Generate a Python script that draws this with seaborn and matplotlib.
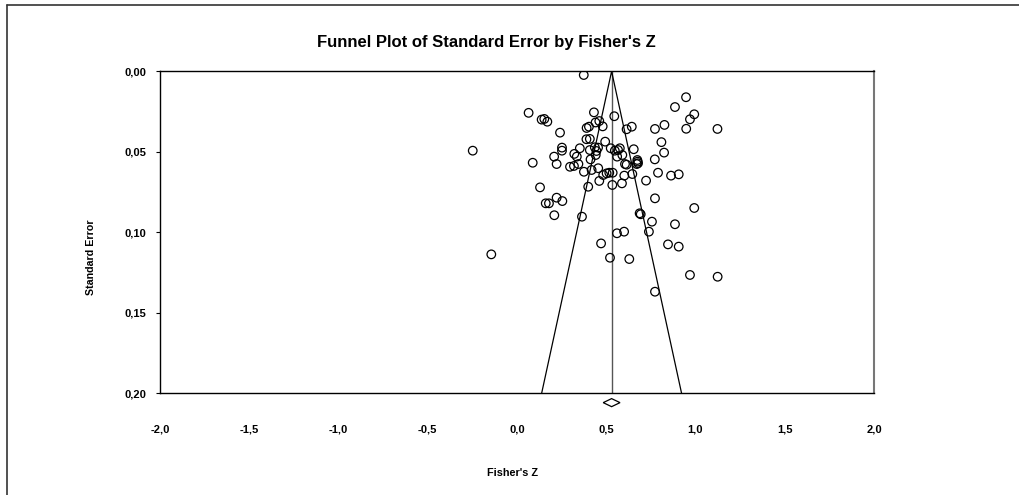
import matplotlib
matplotlib.use("Agg")
import matplotlib.pyplot as plt
import seaborn as sns
import numpy as np
import pandas as pd
from matplotlib.ticker import FuncFormatter
from matplotlib.patches import Polygon
from matplotlib.lines import Line2D

fisher_z = [0.374, 0.947, 0.885, 0.993, 0.969, 0.065, 0.138, 0.153, 0.170, 0.431,
            0.545, 0.461, 0.440, 0.403, 0.390, 0.480, 0.614, 0.643, 0.773, 0.826,
            0.948, 1.123, 0.241, 0.389, 0.408, 0.494, 0.809, -0.248, 0.252, 0.252,
            0.352, 0.408, 0.436, 0.445, 0.454, 0.525, 0.548, 0.576, 0.566, 0.654,
            0.824, 0.321, 0.335, 0.441, 0.412, 0.561, 0.590, 0.674, 0.678, 0.772,
            0.208, 0.088, 0.222, 0.297, 0.319, 0.344, 0.375, 0.418, 0.455, 0.461,
            0.483, 0.502, 0.517, 0.536, 0.534, 0.399, 0.588, 0.601, 0.646, 0.605,
            0.614, 0.671, 0.676, 0.723, 0.790, 0.863, 0.906,
            0.129, 0.222, 0.161, 0.179, 0.254, 0.209, 0.364, 0.773, 0.993,
            0.687, 0.693, 0.756, 0.885, 0.560, 0.600, 0.739, 0.471, 0.846,
            0.906, -0.144, 0.521, 0.629, 0.969, 1.124, 0.773]
std_err = [0.0023, 0.0161, 0.0222, 0.0267, 0.0298, 0.0258, 0.0300, 0.0296, 0.0313, 0.0255,
           0.0279, 0.0309, 0.0318, 0.0344, 0.0352, 0.0342, 0.0360, 0.0344, 0.0358, 0.0333,
           0.0357, 0.0358, 0.0381, 0.0422, 0.0420, 0.0437, 0.0440, 0.0493, 0.0474, 0.0493,
           0.0478, 0.0489, 0.0472, 0.0495, 0.0474, 0.0478, 0.0493, 0.0478, 0.0489, 0.0484,
           0.0505, 0.0513, 0.0530, 0.0520, 0.0547, 0.0530, 0.0520, 0.0551, 0.0571, 0.0547,
           0.0530, 0.0568, 0.0576, 0.0593, 0.0588, 0.0576, 0.0624, 0.0613, 0.0602, 0.0681,
           0.0644, 0.0634, 0.0630, 0.0630, 0.0706, 0.0717, 0.0696, 0.0648, 0.0638, 0.0576,
           0.0580, 0.0576, 0.0561, 0.0679, 0.0630, 0.0648, 0.0640,
           0.0721, 0.0785, 0.0820, 0.0820, 0.0806, 0.0894, 0.0903, 0.0789, 0.0849,
           0.0882, 0.0888, 0.0934, 0.0950, 0.1006, 0.0996, 0.0996, 0.1069, 0.1075,
           0.1089, 0.1137, 0.1158, 0.1166, 0.1265, 0.1276, 0.1369]

summary_z = 0.53
summary_half_width = 0.047
x_ticks = [-2.0, -1.5, -1.0, -0.5, 0.0, 0.5, 1.0, 1.5, 2.0]
y_ticks = [0.00, 0.05, 0.10, 0.15, 0.20]
title = "Funnel Plot of Standard Error by Fisher's Z"
x_label = "Fisher's Z"
y_label = "Standard Error"

sns.set_theme(style="white")
plt.rcParams['font.family'] = ['Liberation Sans', 'DejaVu Sans']
plt.rcParams['axes.unicode_minus'] = False
plt.rcParams['text.color'] = 'black'

df = pd.DataFrame({"z": fisher_z, "se": std_err})

fig = plt.figure(figsize=(10.19, 4.95), dpi=100)
ax = fig.add_axes([160/1019, 1-393.3/495, 714/1019, 322/495])

se_max = y_ticks[-1]
ax.plot([summary_z, summary_z], [0, se_max], color="#555555", lw=1.0, zorder=1)
ax.plot([summary_z - 1.96*se_max, summary_z, summary_z + 1.96*se_max], [se_max, 0, se_max],
        color="black", lw=0.9, zorder=1)

sns.scatterplot(data=df, x="z", y="se", ax=ax, marker="o", s=38,
                facecolor="none", edgecolor="black", linewidth=0.9, zorder=3)

ax.set_xlim(x_ticks[0], x_ticks[-1])
ax.set_ylim(se_max, 0)
ax.set_xticks(x_ticks)
ax.set_yticks(y_ticks)
ax.xaxis.set_major_formatter(FuncFormatter(lambda v, p: f"{v:.1f}".replace(".", ",")))
ax.yaxis.set_major_formatter(FuncFormatter(lambda v, p: f"{v:.2f}".replace(".", ",")))
ax.tick_params(axis="x", direction="inout", length=5, width=0.8, pad=20, labelsize=8,
               color="black", labelcolor="black")
ax.tick_params(axis="y", direction="out", length=3, width=0.8, pad=7, labelsize=8,
               color="black", labelcolor="black", left=True)
for lab in ax.get_xticklabels() + ax.get_yticklabels():
    lab.set_fontweight("bold")

for s in ["top", "left", "bottom"]:
    ax.spines[s].set_color("black")
    ax.spines[s].set_linewidth(1.0)
ax.spines["right"].set_color("#777777")
ax.spines["right"].set_linewidth(1.5)

dy = 0.0025
yc = se_max + 0.0058
diamond = Polygon([[summary_z - summary_half_width, yc], [summary_z, yc - dy],
                   [summary_z + summary_half_width, yc], [summary_z, yc + dy]],
                  closed=True, facecolor="white", edgecolor="black", lw=0.9, clip_on=False, zorder=5)
ax.add_patch(diamond)

ax.set_xlabel("")
ax.set_ylabel("")
fig.text(486/1019, 1-43/495, title, ha="center", va="center", fontsize=12,
         fontweight="bold", color="black")
fig.text(513/1019, 1-473/495, x_label, ha="center", va="center", fontsize=7.8,
         fontweight="bold", color="black")
fig.text(91/1019, 1-257/495, y_label, ha="center", va="center", rotation=90, fontsize=7.7,
         fontweight="bold", color="black")

fig.add_artist(Line2D([7/1019, 1.0], [1-5/495, 1-5/495], transform=fig.transFigure, color="#333333", lw=1.2))
fig.add_artist(Line2D([7/1019, 7/1019], [0.0, 1-5/495], transform=fig.transFigure, color="#333333", lw=1.2))

fig.savefig("out.png", dpi=100, facecolor="white")
